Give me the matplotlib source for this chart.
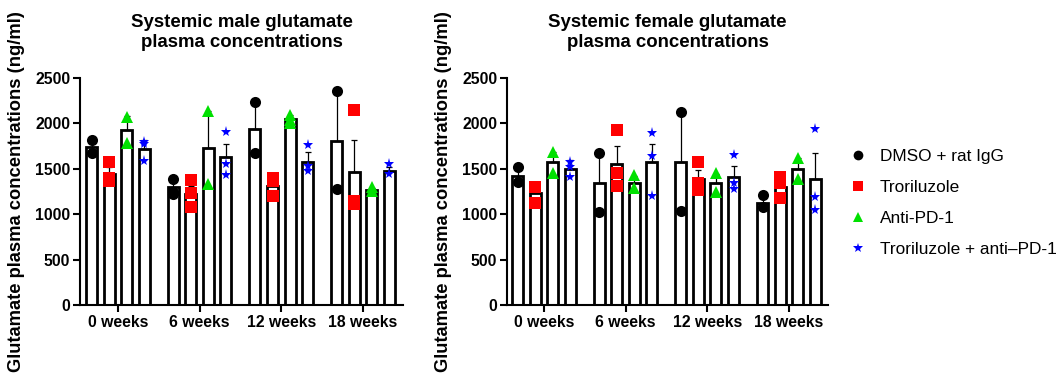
import numpy as np
import matplotlib
matplotlib.use("Agg")
import matplotlib.pyplot as plt
from matplotlib.lines import Line2D

plt.rcParams.update({"font.family": ["Liberation Sans", "DejaVu Sans"]})

weeks = ["0 weeks", "6 weeks", "12 weeks", "18 weeks"]
groups = ["DMSO + rat IgG", "Troriluzole", "Anti-PD-1", "Troriluzole + anti\u2013PD-1"]

# mean per week (rows) and treatment (columns)
male_mean = [[1735, 1448, 1930, 1720],
             [1298, 1224, 1726, 1629],
             [1938, 1312, 2047, 1580],
             [1810, 1463, 1268, 1480]]
male_sem = [[80, 68, 147, 92],
            [92, 88, 406, 147],
            [293, 74, 48, 100],
            [548, 349, 22, 40]]
male_pts = [[[1820, 1673], [1580, 1395, 1370], [2075, 1783], [1794, 1770, 1591]],
            [[1390, 1224, 1240], [1379, 1230, 1084], [2132, 1335], [1908, 1555, 1434]],
            [[2231, 1673], [1395, 1370, 1195], [2095, 2040, 2005], [1757, 1535, 1480]],
            [[2356, 1279], [2150, 1150, 1110], [1295, 1255], [1555, 1445]]]

female_mean = [[1423, 1232, 1574, 1497],
               [1342, 1555, 1349, 1570],
               [1570, 1386, 1349, 1408],
               [1128, 1298, 1500, 1390]]
female_sem = [[60, 66, 110, 100],
              [331, 191, 74, 206],
              [551, 103, 96, 125],
              [55, 81, 121, 283]]
female_pts = [[[1519, 1360], [1300, 1128], [1684, 1459], [1570, 1519, 1408]],
              [[1673, 1029], [1930, 1452, 1312], [1434, 1287], [1894, 1636, 1202]],
              [[2121, 1040], [1570, 1342, 1268], [1459, 1250], [1654, 1342, 1276]],
              [[1210, 1084], [1408, 1342, 1176], [1618, 1386], [1937, 1194, 1048]]]

markers = ["o", "s", "^", "*"]
colors = ["black", "#ff0000", "#00e000", "#0000ff"]
msizes = [8, 8, 8, 8]

fig = plt.figure(figsize=(10.6, 3.81), dpi=100)
ax1 = fig.add_axes([80 / 1060, 1 - 305 / 381, 323 / 1060, 227 / 381])
ax2 = fig.add_axes([507 / 1060, 1 - 305 / 381, 321 / 1060, 227 / 381])

step = 0.215
width = 0.135


def draw_panel(ax, mean, sem, pts, title, xlim):
    mean = np.array(mean)
    sem = np.array(sem)
    x = np.arange(len(weeks))
    for j in range(len(groups)):
        xs = x + (j - 1.5) * step
        ax.bar(xs, mean[:, j], width, color="white", edgecolor="black", linewidth=2.0, zorder=2)
        ax.errorbar(xs, mean[:, j], yerr=[np.zeros(len(weeks)), sem[:, j]], fmt="none",
                    ecolor="black", elinewidth=0.9, capsize=2.5, capthick=0.9, zorder=3)
        for i in range(len(weeks)):
            p = pts[i][j]
            ax.plot([xs[i]] * len(p), p, linestyle="none", marker=markers[j],
                    color=colors[j], markersize=msizes[j], markeredgewidth=0, zorder=4)
    ax.set_xlim(xlim)
    ax.set_ylim(0, 2500)
    ax.set_yticks(range(0, 2501, 500))
    ax.set_xticks(x)
    ax.set_xticklabels(weeks)
    for s in ["top", "right"]:
        ax.spines[s].set_visible(False)
    for s in ["left", "bottom"]:
        ax.spines[s].set_linewidth(1.5)
    ax.tick_params(width=1.5, length=5, labelsize=11.3, pad=2)
    for lab in ax.get_xticklabels() + ax.get_yticklabels():
        lab.set_fontweight("bold")
    ax.set_ylabel("Glutamate plasma concentrations (ng/ml)", fontsize=13.2,
                  fontweight="bold", labelpad=7)
    ax.set_title(title, fontsize=13.4, fontweight="bold", pad=22, linespacing=1.3)


draw_panel(ax1, male_mean, male_sem, male_pts,
           "Systemic male glutamate\nplasma concentrations", (-0.465, 3.49))
draw_panel(ax2, female_mean, female_sem, female_pts,
           "Systemic female glutamate\nplasma concentrations", (-0.453, 3.48))

handles = [Line2D([], [], linestyle="none", marker=markers[j], color=colors[j],
                  markersize=7, markeredgewidth=0) for j in range(len(groups))]
fig.legend(handles, groups, loc="upper left", bbox_to_anchor=(842 / 1060, 1 - 142 / 381),
           frameon=False, fontsize=12.4, handlelength=1.0, handletextpad=0.8,
           labelspacing=0.92, borderaxespad=0)

plt.savefig("out.png", dpi=100)
